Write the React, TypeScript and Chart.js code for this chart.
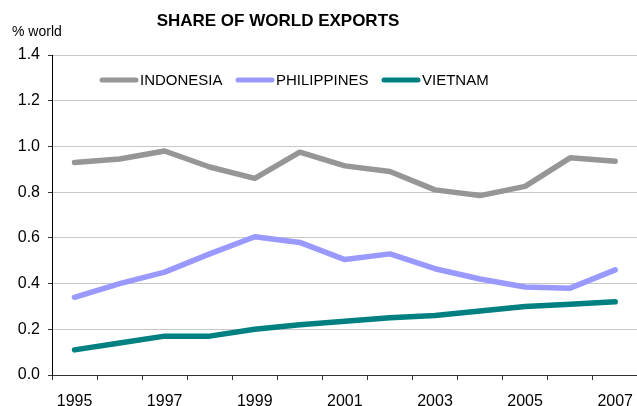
import React, { useEffect, useRef } from "react";
import { Chart, registerables } from "chart.js";

Chart.register(...registerables);

const years = ["1995","1996","1997","1998","1999","2000","2001","2002","2003","2004","2005","2006","2007"];
const indonesia = [0.93, 0.945, 0.98, 0.91, 0.86, 0.975, 0.915, 0.89, 0.81, 0.785, 0.825, 0.95, 0.935];
const philippines = [0.34, 0.40, 0.45, 0.53, 0.605, 0.58, 0.505, 0.53, 0.465, 0.42, 0.385, 0.38, 0.46];
const vietnam = [0.11, 0.14, 0.17, 0.17, 0.20, 0.22, 0.235, 0.25, 0.26, 0.28, 0.30, 0.31, 0.32];
const seriesNames = ["INDONESIA", "PHILIPPINES", "VIETNAM"];
const seriesColors = ["#969696", "#9999ff", "#008080"];
const titleText = "SHARE OF WORLD EXPORTS";
const unitText = "% world";

const FONT = "'Liberation Sans', Arial, sans-serif";

const overlay = {
  id: "overlay",
  afterDraw(chart: any) {
    const ctx = chart.ctx;
    ctx.save();
    ctx.fillStyle = "#000";
    ctx.textBaseline = "middle";
    ctx.font = `bold 17px ${FONT}`;
    ctx.textAlign = "center";
    ctx.fillText(titleText, 278, 21);
    ctx.font = `14px ${FONT}`;
    ctx.textAlign = "left";
    ctx.fillText(unitText, 12, 32);
    // legend
    const starts = [100, 236, 382];
    chart.data.datasets.forEach((ds: any, i: number) => {
      const x = starts[i];
      const y = 80;
      ctx.strokeStyle = ds.borderColor;
      ctx.lineWidth = 5;
      ctx.lineCap = "round";
      ctx.beginPath();
      ctx.moveTo(x + 2, y);
      ctx.lineTo(x + 36, y);
      ctx.stroke();
      ctx.fillStyle = "#000";
      ctx.font = `15px ${FONT}`;
      ctx.textAlign = "left";
      ctx.fillText(ds.label, x + 40, y + 1);
    });
    ctx.restore();
  },
};

export default function App() {
  const ref = useRef<HTMLCanvasElement>(null);
  useEffect(() => {
    document.body.style.margin = "0";
    const chart = new Chart(ref.current!, {
      type: "line",
      data: {
        labels: years,
        datasets: [indonesia, philippines, vietnam].map((d, i) => ({
          label: seriesNames[i],
          data: d,
          borderColor: seriesColors[i],
          backgroundColor: seriesColors[i],
          borderWidth: 5.5,
          pointRadius: 0,
          tension: 0,
          borderCapStyle: "round" as const,
          borderJoinStyle: "round" as const,
        })),
      },
      options: {
        responsive: false,
        animation: false,
        layout: { padding: { top: 55, left: 0, right: 0, bottom: 0 } },
        plugins: { legend: { display: false }, title: { display: false }, tooltip: { enabled: false } },
        scales: {
          x: {
            offset: true,
            grid: { offset: true, drawOnChartArea: false, drawTicks: true, tickLength: 5, tickColor: "#333" },
            border: { color: "#333", width: 1 },
            ticks: {
              autoSkip: false,
              maxRotation: 0,
              padding: 12,
              color: "#000",
              font: { family: FONT, size: 16 },
              callback: (_v: any, i: number) => (i % 2 === 0 ? years[i] : ""),
            },
            afterFit: (s: any) => { s.height = 31; },
          },
          y: {
            min: 0,
            max: 1.4,
            grid: { color: "#c8c8c8", lineWidth: 1, tickLength: 4, tickColor: "#333" },
            border: { color: "#000", width: 1 },
            ticks: {
              stepSize: 0.2,
              padding: 8,
              color: "#000",
              font: { family: FONT, size: 16 },
              callback: (v: any) => Number(v).toFixed(1),
            },
            afterFit: (s: any) => { s.width = 52; },
          },
        },
      },
      plugins: [overlay],
    });
    return () => chart.destroy();
  }, []);
  return (
    <div style={{ position: "absolute", left: 0, top: 0, width: 637, height: 406, overflow: "hidden", background: "#fff" }}>
      <canvas ref={ref} width={645} height={406} style={{ display: "block" }} />
    </div>
  );
}
